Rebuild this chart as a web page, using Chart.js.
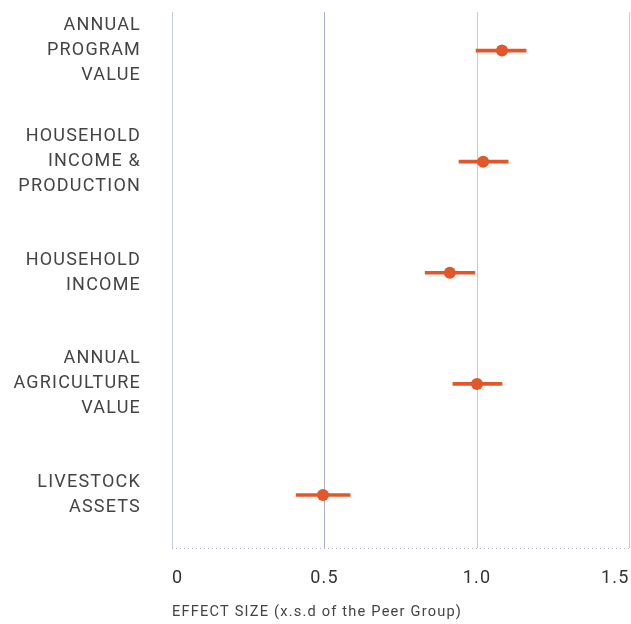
<!DOCTYPE html>
<html>
<head>
<meta charset="utf-8">
<script src="https://cdn.jsdelivr.net/npm/chart.js@4/dist/chart.umd.min.js"></script>
<style>
    html, body { margin: 0; padding: 0; background: #fff; }
    #wrap { width: 631px; height: 624px; }
</style>
</head>
<body>
<div id="wrap"><canvas id="effectChart"></canvas></div>
<script>
const categories = [
    ['ANNUAL', 'PROGRAM', 'VALUE'],
    ['HOUSEHOLD', 'INCOME &', 'PRODUCTION'],
    ['HOUSEHOLD', 'INCOME'],
    ['ANNUAL', 'AGRICULTURE', 'VALUE'],
    ['LIVESTOCK', 'ASSETS']
]
const effect = [1.082, 1.020, 0.911, 1.000, 0.495]
const lower = [0.997, 0.941, 0.830, 0.921, 0.407]
const upper = [1.161, 1.102, 0.993, 1.082, 0.584]
const xTicks = [0, 0.5, 1.0, 1.5]

const orange = '#e2572a'
const yMin = -0.347
const yMax = 4.477

// canvas letter spacing, Chart.js has no option for it
const spacing = {
    id: 'spacing',
    beforeDraw(chart) { chart.ctx.letterSpacing = '1.2px' }
}

const ctx = document.getElementById('effectChart')

new Chart(ctx, {
    data: {
        datasets: [
            {
                type: 'bar',
                indexAxis: 'y',
                data: categories.map((c, i) => ({x: [lower[i], upper[i]], y: i})),
                backgroundColor: orange,
                barThickness: 3,
                borderWidth: 0
            },
            {
                type: 'scatter',
                data: effect.map((v, i) => ({x: v, y: i})),
                backgroundColor: orange,
                borderWidth: 0,
                pointRadius: 6
            }
        ]
    },
    options: {
        responsive: true,
        maintainAspectRatio: false,
        animation: false,
        layout: {autoPadding: false, padding: {top: 12, right: 1.5, left: 0, bottom: 0}},
        plugins: {
            legend: {display: false},
            tooltip: {enabled: false}
        },
        scales: {
            x: {
                type: 'linear',
                min: 0,
                max: 1.5,
                afterBuildTicks: s => { s.ticks = xTicks.map(v => ({value: v})) },
                afterFit: s => {
                    s.height = 76
                    s.paddingLeft = 0
                    s.paddingRight = 0
                },
                grid: {
                    drawTicks: false,
                    color: c => c.tick && c.tick.value === 0.5 ? '#a9b0d4' : '#c6cad8',
                    lineWidth: 1
                },
                border: {display: false},
                ticks: {
                    align: 'inner',
                    padding: 20,
                    color: '#333',
                    font: {family: 'Roboto', size: 18},
                    callback: v => v === 0 ? '0' : v.toFixed(1)
                },
                title: {
                    display: true,
                    align: 'start',
                    text: 'EFFECT SIZE (x.s.d of the Peer Group)',
                    color: '#444',
                    font: {family: 'Roboto', size: 14.6},
                    padding: {top: 5, bottom: 3}
                }
            },
            y: {
                type: 'linear',
                reverse: true,
                offset: false,
                min: yMin,
                max: yMax,
                // one extra tick at the bottom carries the dotted base line
                afterBuildTicks: s => {
                    s.ticks = categories.map((c, i) => ({value: i})).concat([{value: yMax}])
                },
                afterFit: s => {
                    s.width = 172
                    s.paddingTop = 0
                    s.paddingBottom = 0
                },
                grid: {
                    offset: false,
                    drawTicks: false,
                    color: c => c.tick && c.tick.value === yMax ? '#b3b7c6' : 'rgba(0,0,0,0)'
                },
                border: {display: false, dash: [1, 3]},
                ticks: {
                    padding: 31,
                    color: '#444',
                    font: {family: 'Roboto', size: 18, lineHeight: 25 / 18},
                    callback: v => categories[v] || ''
                }
            }
        }
    },
    plugins: [spacing]
})
</script>
</body>
</html>
